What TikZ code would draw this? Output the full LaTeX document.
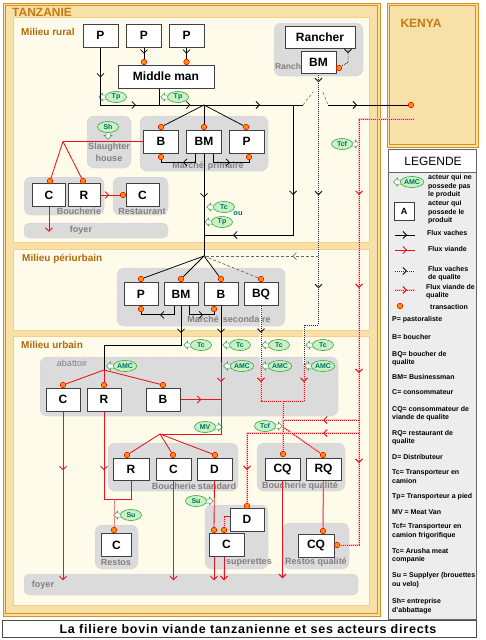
\documentclass[tikz,border=0pt]{standalone}
\usepackage{fontspec}
\setmainfont{Liberation Sans}
\usetikzlibrary{arrows.meta,decorations.markings,shapes.geometric,shadows}
\definecolor{panel}{HTML}{FFFBEB}
\definecolor{band}{HTML}{F8E1A9}
\definecolor{frameor}{HTML}{D8901C}
\definecolor{titleor}{HTML}{C47A12}
\definecolor{zonec}{HTML}{B06A08}
\definecolor{grayfill}{HTML}{DBDBDB}
\definecolor{graytxt}{HTML}{808080}
\definecolor{tagfill}{HTML}{C8F2C2}
\definecolor{tagdraw}{HTML}{36A048}
\definecolor{tagtxt}{HTML}{006E6A}
\definecolor{rline}{HTML}{E8141B}
\definecolor{legfill}{HTML}{EDEDED}
\pgfdeclarelayer{back}
\pgfdeclarelayer{mid}
\pgfsetlayers{back,mid,main}
\newcommand\fsz[1]{\fontsize{#1}{#1}\selectfont}
\tikzset{
  act/.style={draw=black!75, fill=white, line width=0.7pt, minimum width=35pt, minimum height=23pt, inner sep=0pt, font=\fsz{12}\bfseries, drop shadow={shadow xshift=0.9pt, shadow yshift=-0.9pt, fill=black!45, opacity=0.6}},
  gbox/.style={fill=grayfill, draw=black!22, densely dotted, line width=0.5pt, rounded corners=7pt},
  glab/.style={text=graytxt, font=\fsz{9}\bfseries, inner sep=0pt},
  tdot/.style={circle, fill=orange!85!yellow, draw=red, line width=0.6pt, minimum size=5.5pt, inner sep=0pt},
  tagov/.style={ellipse, fill=tagfill, draw=tagdraw, line width=0.6pt, text=tagtxt, font=\fsz{7}\bfseries, inner sep=0.3pt, minimum width=21pt, minimum height=11pt},
  tagarr/.style={fill=white, draw=tagdraw, line width=0.5pt},
  cow/.style={draw=black, line width=0.75pt},
  meat/.style={draw=rline, line width=0.85pt},
  cowq/.style={draw=black!85, line width=1pt, dash pattern=on 1pt off 1pt, preaction={draw=white, solid, line width=1.5pt}},
  meatq/.style={draw=rline, line width=1pt, dash pattern=on 1.2pt off 0.8pt, preaction={draw=red!25, solid, line width=1.5pt}},
  gdash/.style={draw=black!60, line width=0.7pt, dash pattern=on 3pt off 2pt},
  mk/.style={postaction={decorate, decoration={markings, mark=at position #1 with {\arrow{Straight Barb[length=3.5pt, width=7pt]}}}}},
  endarr/.style={-{Straight Barb[length=3.5pt, width=7pt]}},
  leg/.style={font=\fontsize{7}{8.6}\selectfont\bfseries, inner sep=0pt, anchor=west, align=left},
  zone/.style={font=\fsz{10}\bfseries, text=zonec, inner sep=0pt, anchor=west},
}
\newcommand\tagW[4]{%
  \node[tagov] (#1) at (#2,#3) {#4};
  \begin{pgfonlayer}{mid}
  \draw[tagarr] (#1.west) ++(1.5,2) -- ++(-4,0) -- ++(0,2) -- ++(-4,-4) -- ++(4,-4) -- ++(0,2) -- ++(4,0) -- cycle;
  \end{pgfonlayer}}
\newcommand\tagE[4]{%
  \node[tagov] (#1) at (#2,#3) {#4};
  \begin{pgfonlayer}{mid}
  \draw[tagarr] (#1.east) ++(-1.5,2) -- ++(4,0) -- ++(0,2) -- ++(4,-4) -- ++(-4,-4) -- ++(0,2) -- ++(-4,0) -- cycle;
  \end{pgfonlayer}}
\newcommand\tagS[4]{%
  \node[tagov] (#1) at (#2,#3) {#4};
  \begin{pgfonlayer}{mid}
  \draw[tagarr] (#1.south) ++(2,-1.5) -- ++(0,4) -- ++(2,0) -- ++(-4,4) -- ++(-4,-4) -- ++(2,0) -- ++(0,-4) -- cycle;
  \end{pgfonlayer}}
\begin{document}
\begin{tikzpicture}[x=1pt,y=-1pt]
\useasboundingbox (0,0) rectangle (486,640);
% ================= background =================
\begin{pgfonlayer}{back}
  \fill[white] (0,0) rectangle (486,640);
  % Tanzanie frame
  \fill[band] (3,3) rectangle (380,616);
  \draw[frameor, line width=0.7pt] (3,3) rectangle (380,616);
  \draw[frameor, line width=0.5pt] (5.5,5.5) rectangle (377.5,613.5);
  \filldraw[fill=panel, draw=band!80!orange, line width=0.5pt] (13,17) rectangle (369,242);
  \filldraw[fill=panel, draw=band!80!orange, line width=0.5pt] (13,249) rectangle (369,330);
  \filldraw[fill=panel, draw=band!80!orange, line width=0.5pt] (13,336) rectangle (369,605);
  % Kenya frame
  \fill[band] (387,3) rectangle (478,147);
  \draw[frameor, line width=0.7pt] (387,3) rectangle (478,147);
  \draw[frameor, line width=0.5pt] (389.5,5.5) rectangle (475.5,144.5);
  % legend frame
  \draw[fill=legfill, draw=black!60, line width=0.6pt] (388,149) rectangle (476,619);
  \draw[fill=white, draw=black!60, line width=0.6pt] (388,149) rectangle (476,172);
  % title frame
  \draw[fill=white, draw=black!70, line width=0.7pt] (2,620) rectangle (476,637);
  % gray groups
  \path[gbox] (274,23) rectangle (363,76);
  \path[gbox] (87,116) rectangle (131,168);
  \path[gbox] (140,116) rectangle (268,171);
  \path[gbox] (24,177) rectangle (104,215);
  \path[gbox] (113,177) rectangle (168,215);
  \path[gbox, rounded corners=5pt] (24,223) rectangle (168,238);
  \path[gbox] (117,268) rectangle (285,326);
  \path[gbox] (40,357) rectangle (338,416);
  \path[gbox] (108,443) rectangle (238,491);
  \path[gbox] (257,443) rectangle (345,491);
  \path[gbox] (95,525) rectangle (138,569);
  \path[gbox] (205,505) rectangle (268,569);
  \path[gbox] (283,523) rectangle (349,569);
  \path[gbox, rounded corners=5pt] (24,574) rectangle (358,595);
  % gray labels
  \node[glab, font=\fsz{8.5}\bfseries] (lRanch) at (288,66) {Ranch};
  \node[glab] (lSl1) at (109,147) {Slaughter};
  \node[glab] (lSl2) at (109,158) {house};
  \node[glab] (lMP) at (208,166) {Marché\hspace{4pt}primaire};
  \node[glab] (lBou) at (79,211.5) {Boucherie};
  \node[glab] (lRest) at (142,211.5) {Restaurant};
  \node[glab] (lFoy1) at (81,230) {foyer};
  \node[glab] (lMS) at (229,319) {Marché\hspace{4pt}secondaire};
  \node[glab, font=\fsz{9}] (lAb) at (72,363.5) {abattoir};
  \node[glab] (lBS) at (194,486) {Boucherie\hspace{2pt}standard};
  \node[glab] (lBQ) at (300,486) {Boucherie qualité};
  \node[glab] (lRestos) at (116,562) {Restos};
  \node[glab] (lSup) at (249,562) {superettes};
  \node[glab] (lRQ) at (316,562) {Restos qualité};
  \node[glab] (lFoy2) at (43,585) {foyer};
\end{pgfonlayer}
% ================= titles =================
\node[font=\fsz{12}\bfseries, text=titleor, inner sep=0pt, anchor=west] (tz) at (12,12.5) {TANZANIE};
\node[font=\fsz{12}\bfseries, text=titleor, inner sep=0pt] (ke) at (421,23) {KENYA};
\node[zone] (zr) at (21,32) {Milieu rural};
\node[zone] (zp) at (22,259) {Milieu périurbain};
\node[zone] (zu) at (21,345) {Milieu urbain};
\node[font=\fsz{12.5}\bfseries\addfontfeatures{LetterSpace=6.3}, inner sep=0pt] (title) at (248,629) {La filiere bovin viande tanzanienne et ses acteurs directs};
% ================= actors =================
\node[act] (P1) at (100.5,35.5) {P};
\node[act] (P2) at (144,35.5) {P};
\node[act] (P3) at (186.5,35.5) {P};
\node[act, minimum width=96pt] (MM) at (166,76.5) {Middle man};
\node[act, minimum width=70pt, minimum height=22pt] (Rancher) at (320,37) {Rancher};
\node[act, minimum height=22pt] (RBM) at (318.5,62) {BM};
\node[act] (B1) at (161,141.5) {B};
\node[act] (BM1) at (204,141.5) {BM};
\node[act] (PM1) at (246.5,141.5) {P};
\node[act, minimum width=33pt] (C1) at (49,195) {C};
\node[act, minimum width=32pt] (R1) at (84,195) {R};
\node[act, minimum width=33pt] (CRest) at (142.5,195) {C};
\node[act, minimum width=34pt] (P2m) at (141,294) {P};
\node[act, minimum width=34pt] (BM2) at (181,294) {BM};
\node[act, minimum width=34pt] (B2) at (221,294) {B};
\node[act, minimum width=34pt] (BQ) at (261,294) {BQ};
\node[act, minimum width=34pt] (C3) at (63,399.5) {C};
\node[act, minimum width=34pt] (R3) at (104,399.5) {R};
\node[act, minimum width=34pt] (B3) at (163,399.5) {B};
\node[act, minimum width=36pt, minimum height=22pt] (RS) at (131,469) {R};
\node[act, minimum height=22pt] (CS) at (173.5,469) {C};
\node[act, minimum height=22pt] (DS) at (214.5,469) {D};
\node[act, minimum width=30pt] (CR) at (116.5,545) {C};
\node[act, minimum width=34pt] (DSu) at (247,519.5) {D};
\node[act] (CSu) at (226.5,544.5) {C};
\node[act, minimum height=22pt] (CQ) at (282.5,469) {CQ};
\node[act, minimum height=22pt] (RQ) at (323.5,469) {RQ};
\node[act, minimum width=36pt] (CQR) at (316,545.5) {CQ};
% ================= transaction dots =================
\node[tdot] (d1) at (144,62) {};
\node[tdot] (d2) at (186.5,62) {};
\node[tdot] (dRBM) at (339,68) {};
\node[tdot] (kdot) at (411,105) {};
\node[tdot] (dB1t) at (161,127) {};
\node[tdot] (dBM1t) at (204,127) {};
\node[tdot] (dPM1t) at (246,127) {};
\node[tdot] (dB1b) at (161,157) {};
\node[tdot] (dPM1b) at (249,157) {};
\node[tdot] (dC1) at (50,181) {};
\node[tdot] (dR1) at (83,181) {};
\node[tdot] (dRest) at (123,195) {};
\node[tdot] (dP2t) at (141,279) {};
\node[tdot] (dBM2t) at (181,279) {};
\node[tdot] (dB2t) at (221,279) {};
\node[tdot] (dBQt) at (261,279) {};
\node[tdot] (dP2b) at (141,309) {};
\node[tdot] (dB2b) at (214,309) {};
\node[tdot] (dC3t) at (63,385) {};
\node[tdot] (dR3t) at (104,385) {};
\node[tdot] (dB3t) at (163,385) {};
\node[tdot] (dRSt) at (127,455) {};
\node[tdot] (dCSt) at (173,455) {};
\node[tdot] (dDSt) at (215,455) {};
\node[tdot] (dCRt) at (114,530) {};
\node[tdot] (dDSut) at (247,506) {};
\node[tdot] (dCSu1) at (214,530) {};
\node[tdot] (dCSu2) at (224,530) {};
\node[tdot] (dCQt) at (283,454) {};
\node[tdot] (dRQt) at (323,455) {};
\node[tdot] (dCQRt) at (323,531) {};
\node[tdot] (dCQRr) at (337,545) {};
% ================= tags =================
\tagW{tp1}{116}{97}{Tp}
\tagW{tp2}{178}{97}{Tp}
\tagS{sh}{108}{127}{Sh}
\tagE{tcf1}{342}{144}{Tcf}
\tagW{tc1}{224}{207}{Tc}
\tagW{tp3}{222}{222}{Tp}
\node[font=\fsz{7.5}\bfseries, text=tagtxt, inner sep=0pt] (ou) at (238,214) {ou};
\tagW{tc2}{201}{345}{Tc}
\tagW{tc3}{240}{345}{Tc}
\tagW{tc4}{279}{345}{Tc}
\tagW{tc5}{323}{345}{Tc}
\tagW{amc1}{125}{366}{AMC}
\tagW{amc2}{242}{366}{AMC}
\tagW{amc3}{280}{366}{AMC}
\tagW{amc4}{323}{366}{AMC}
\tagE{mv}{205}{427}{MV}
\tagE{tcf2}{265}{426}{Tcf}
\tagW{su1}{131}{515}{Su}
\tagE{su2}{196}{501}{Su}
% ================= connectors =================
\begin{pgfonlayer}{mid}
\coordinate (J1) at (204,105);
\coordinate (HopL) at (303,105);
\coordinate (HopR) at (328,105);
\coordinate (HopA) at (313,92);
\coordinate (HopB) at (323,92);
\coordinate (Jv) at (293,105);
\coordinate (Jc) at (204,235);
\coordinate (J2) at (204,256);
\coordinate (Jq) at (318.5,256);
% rural cattle
\draw[cow, mk=30pt, mk=93pt] (P1.south) |- (J1);
\draw[cow, mk=48pt] ([xshift=-7pt]MM.south) |- (J1);
\draw[cow, mk=0.55] (P2.south) -- (d1);
\draw[cow, mk=0.55] (P3.south) -- (d2);
\draw[cow] (J1) -- (dB1t);
\draw[cow] (J1) -- (dBM1t);
\draw[cow] (J1) -- (dPM1t);
\draw[cow, mk=56pt] (J1) -- (HopL);
\draw[black!55, line width=0.6pt, densely dashed] (HopL) -- (HopA);
\draw[black!55, line width=0.6pt, densely dashed] (HopB) -- (HopR);
\draw[cow, mk=29pt] (HopR) -- (kdot);
\draw[cow, mk=90pt, mk=190pt] (Jv) |- (Jc);
\draw[cow, mk=44pt] (BM1.south) -- (J2);
\draw[cow, mk=21pt] ([xshift=-9pt]BM1.south) -- ++(0,9) -| (dB1b);
\draw[cow, mk=26pt] ([xshift=9pt]BM1.south) -- ++(0,9) -| (dPM1b);
\draw[cowq, mk=5pt] ([xshift=28pt]Rancher.south) -- ++(0,14) -- (dRBM);
% rural meat
\coordinate (JS) at (63,141.5);
\draw[meat] (B1.west) -- (JS);
\draw[meat] (JS) -- (dC1);
\draw[meat] (JS) -- (dR1);
\draw[meat, mk=0.45] (R1.east) -- (dRest);
\draw[meat, endarr] (C1.south) -- ++(0,25);
% periurban
\draw[cow] (J2) -- (dP2t);
\draw[cow] (J2) -- (dBM2t);
\draw[cow] (J2) -- (dB2t);
\draw[gdash] (J2) -- (dBQt);
\draw[gdash, mk=26pt] (Jq) -- (J2);
\draw[cow, mk=23pt] ([xshift=-7pt]BM2.south) -- ++(0,9) -| (dP2b);
\draw[cow, mk=23pt] ([xshift=8pt]BM2.south) -- ++(0,9) -| (dB2b);
% towards urban
\coordinate (Jt) at (104,345);
\coordinate (J3) at (104,370);
\coordinate (Jm) at (221,362);
\coordinate (J4r) at (221,434);
\coordinate (J4) at (160,434);
\draw[cow, mk=27pt] (BM2.south) |- (Jt) -- (J3);
\draw[cow, mk=27pt] (B2.south) -- (Jm);
\draw[meat, mk=20pt] (Jm) -- (J4r) -- (J4);
\draw[meat, mk=21pt] (B3.east) -- (B3.east -| Jm);
% abattoir
\draw[meat] (J3) -- (dC3t);
\draw[meat] (J3) -- (dR3t);
\draw[meat] (J3) -- (dB3t);
\draw[meat, mk=59pt, endarr] (C3.south) -- ++(0,169);
\coordinate (Jr) at (131,499);
\coordinate (Jr2) at (114,499);
\draw[meat, mk=59pt] (R3.south) |- (Jr) -- (RS.south);
\draw[rline!55, line width=0.85pt] (Jr2) -- (dCRt);
% boucherie standard
\draw[meat] (J4) -- (dRSt);
\draw[meat] (J4) -- (dCSt);
\draw[meat] (J4) -- (dDSt);
\draw[meat, endarr] (CS.south) -- ++(0,100);
\draw[meat] (DS.south) -- (dCSu1);
% superettes
\draw[meatq] ([yshift=3pt]DSu.west) -| (dCSu2);
\draw[meat, endarr] (CSu.south -| dCSu1) -- ++(0,24);
\draw[meatq, endarr] (CSu.south -| dCSu2) -- ++(0,24);
% quality chain
\coordinate (Q1) at (261,364);
\coordinate (Q2) at (304,364);
\coordinate (Q3) at (318.5,325);
\coordinate (Q4) at (304,325);
\coordinate (J5L) at (261,401);
\coordinate (J5R) at (304,401);
\coordinate (J5) at (283,401);
\coordinate (J6) at (283,427);
\draw[cowq, mk=27pt] (BQ.south) -- (Q1);
\draw[cowq, mk=9pt, mk=122pt, mk=215pt] (RBM.south) -- (Q3) -- (Q4) -- (Q2);
\draw[meatq, mk=18pt] (Q1) -- (J5L) -- (J5R);
\draw[meatq, mk=18pt] (Q2) -- (J5R);
\draw[meatq] (J5) -- (dCQt);
\draw[meatq] (J6) -- (dRQt);
\draw[meatq, endarr] (CQ.south) -- ++(0,98);
\draw[meatq] (RQ.south) -- (dCQRt);
% Kenya quality meat
\coordinate (K1) at (414,119);
\coordinate (K2) at (359,119);
\coordinate (K3) at (359,545);
\coordinate (K420) at (359,420);
\coordinate (J6a) at (283,420);
\coordinate (K433) at (359,433);
\draw[meatq, mk=131pt, mk=224pt, mk=309pt, mk=399pt] (K1) -- (K2) -- (K3) -- (dCQRr);
\draw[meatq, mk=36pt] (K420) -- (J6a);
\draw[meatq, mk=36pt, mk=149pt] (K433) -| (dDSut);
\end{pgfonlayer}
% ================= legend =================
\node[font=\fsz{12}, inner sep=0pt] (lh) at (433,161) {LEGENDE};
\tagW{amcl}{412}{182}{AMC}
\node[act, minimum width=20pt, minimum height=18pt, font=\fsz{9}\bfseries] (la) at (404,211) {A};
\coordinate (lc1) at (395,235); \coordinate (lc2) at (415,235);
\coordinate (lm1) at (395,250); \coordinate (lm2) at (415,250);
\coordinate (lq1) at (395,271); \coordinate (lq2) at (415,271);
\coordinate (lr1) at (395,290); \coordinate (lr2) at (415,290);
\draw[cow, mk=0.6] (lc1) -- (lc2);
\draw[meat, mk=0.6] (lm1) -- (lm2);
\draw[cowq, mk=0.6] (lq1) -- (lq2);
\draw[meatq, mk=0.6] (lr1) -- (lr2);
\node[tdot] (ld) at (400,306) {};
\begin{scope}
\clip (388,172) rectangle (476,619);
\node[leg] (t1) at (428,186.5) {acteur qui ne\\possede pas\\le produit};
\node[leg] (t2) at (428,212.5) {acteur qui\\possede le\\produit};
\node[leg] (t3) at (427,233) {Flux vaches};
\node[leg] (t4) at (428,249) {Flux viande};
\node[leg] (t5) at (428,273.5) {Flux vaches\\de qualite};
\node[leg] (t6) at (426,291.5) {Flux viande de\\qualite};
\node[leg] (t7) at (430,307) {transaction};
\node[leg] (t8) at (392,320) {P= pastoraliste};
\node[leg] (t9) at (392,337) {B= boucher};
\node[leg] (t10) at (392,358.5) {BQ= boucher de\\qualite};
\node[leg] (t11) at (392,377) {BM= Businessman};
\node[leg] (t12) at (392,392) {C= consommateur};
\node[leg] (t13) at (392,413.5) {CQ= consommateur de\\viande de qualite};
\node[leg] (t14) at (392,437.5) {RQ= restaurant de\\qualite};
\node[leg] (t15) at (392,457) {D= Distributeur};
\node[leg] (t16) at (392,476.5) {Tc= Transporteur en\\camion};
\node[leg] (t17) at (392,497) {Tp= Transporteur a pied};
\node[leg] (t18) at (392,512) {MV = Meat Van};
\node[leg] (t19) at (392,531) {Tcf= Transporteur en\\camion frigorifique};
\node[leg] (t20) at (392,555.5) {Tc= Arusha meat\\companie};
\node[leg] (t21) at (392,580) {Su = Supplyer (brouettes\\ou velo)};
\node[leg] (t22) at (392,606) {Sh= entreprise\\d'abbattage};
\end{scope}
\end{tikzpicture}
\end{document}
